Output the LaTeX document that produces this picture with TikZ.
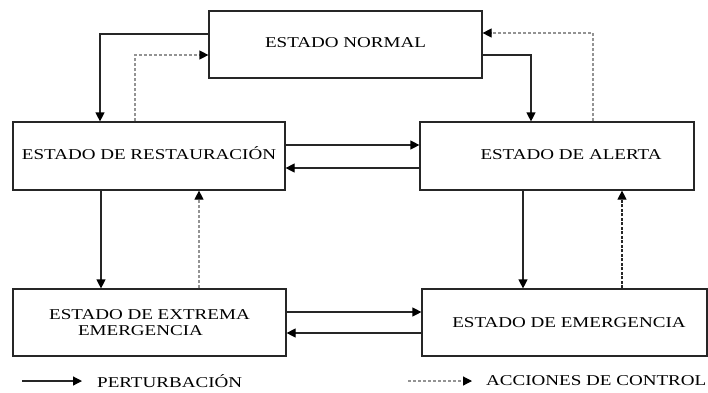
\documentclass[tikz,border=0pt]{standalone}
\usepackage{fontspec}
\usepackage{graphicx}
\setmainfont{Liberation Serif}
\usetikzlibrary{arrows.meta}
\newcommand\wtx[1]{\scalebox{1.27}[1]{#1}}
\begin{document}
\begin{tikzpicture}[x=1pt,y=-1pt,
  txt/.style={font=\fontsize{15}{16.5}\selectfont, align=center, inner sep=0pt},
  box/.style={draw=black!85, line width=1.2pt, rectangle, inner sep=0pt, txt},
  tip/.style={-{Triangle[length=9pt,width=9pt,color=black]}},
  pert/.style={draw=black!85, line width=1.2pt, tip},
  ctrl/.style={draw=gray!85, line width=1.2pt, dash pattern=on 3pt off 2pt, tip},
  ctrlk/.style={draw=black!85, line width=1.2pt, dash pattern=on 3pt off 1.5pt, tip}]
\useasboundingbox (0,0) rectangle (708,392);
\fill[white] (0,0) rectangle (708,392);
% boxes
\node[box, minimum width=273pt, minimum height=67pt] (N) at (345.5,44.5) {\raisebox{3pt}{\wtx{ESTADO NORMAL}}};
\node[box, minimum width=272pt, minimum height=68pt] (R) at (149,156) {\raisebox{5pt}{\wtx{ESTADO DE RESTAURACIÓN}}};
\node[box, minimum width=274pt, minimum height=68pt] (A) at (557,156) {\hspace*{28pt}\raisebox{2pt}{\wtx{ESTADO DE ALERTA}}};
\node[box, minimum width=273pt, minimum height=67pt] (X) at (149.5,322.5) {\wtx{ESTADO DE EXTREMA}\\[-1pt]\hspace*{-18pt}\wtx{EMERGENCIA}};
\node[box, minimum width=285pt, minimum height=67pt] (E) at (564.5,322.5) {\hspace*{9pt}\wtx{ESTADO DE EMERGENCIA}};
% top connections
\draw[pert] (N.west |- 0,34) -| (R.north -| 100,0);
\draw[ctrl] (R.north -| 135,0) |- (N.west |- 0,55);
\draw[pert] (N.east |- 0,55) -| (A.north -| 531,0);
\draw[ctrl] (A.north -| 593,0) |- (N.east |- 0,33);
% middle horizontal
\draw[pert] (R.east |- 0,145) -- (A.west |- 0,145);
\draw[pert] (A.west |- 0,168) -- (R.east |- 0,168);
% verticals
\draw[pert] (R.south -| 101,0) -- (X.north -| 101,0);
\draw[ctrl] (X.north -| 199,0) -- (R.south -| 199,0);
\draw[pert] (A.south -| 523,0) -- (E.north -| 523,0);
\draw[ctrlk] (E.north -| 622,0) -- (A.south -| 622,0);
% bottom horizontal
\draw[pert] (X.east |- 0,312) -- (E.west |- 0,312);
\draw[pert] (E.west |- 0,333) -- (X.east |- 0,333);
% legend
\coordinate (l1a) at (22,381);
\coordinate (l1b) at (82,381);
\coordinate (l2a) at (408,381);
\coordinate (l2b) at (472,381);
\draw[pert] (l1a) -- (l1b);
\node[txt, anchor=west] (lp) at (97,381) {\wtx{PERTURBACIÓN}};
\draw[ctrl] (l2a) -- (l2b);
\node[txt, anchor=west] (lc) at (486,381) {\wtx{ACCIONES DE CONTROL}};
\end{tikzpicture}
\end{document}
